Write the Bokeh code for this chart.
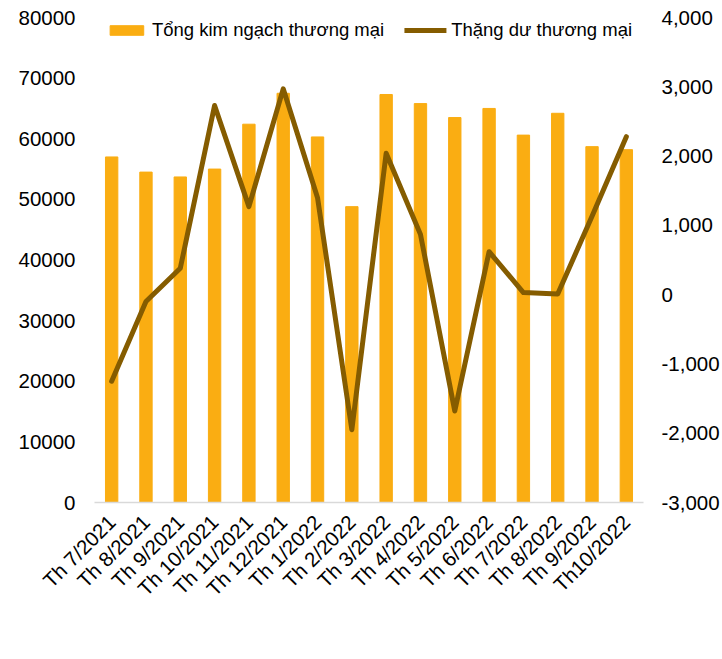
import math
from bokeh.plotting import figure
from bokeh.models import Range1d, LinearAxis, Legend, LegendItem, NumeralTickFormatter, FixedTicker
from bokeh.embed import file_html
from bokeh.resources import INLINE

months = ["Th 7/2021", "Th 8/2021", "Th 9/2021", "Th 10/2021", "Th 11/2021", "Th 12/2021",
          "Th 1/2022", "Th 2/2022", "Th 3/2022", "Th 4/2022", "Th 5/2022", "Th 6/2022",
          "Th 7/2022", "Th 8/2022", "Th 9/2022", "Th10/2022"]
total_trade = [57000, 54500, 53700, 55000, 62400, 67500, 60300, 48800,
               67300, 65800, 63500, 65000, 60600, 64200, 58700, 58200]
trade_surplus = [-1250, -100, 380, 2730, 1270, 2970, 1400, -1950,
                 2040, 870, -1680, 620, 30, 10, 1130, 2280]
left_ticks = [0, 10000, 20000, 30000, 40000, 50000, 60000, 70000, 80000]
right_ticks = [-3000, -2000, -1000, 0, 1000, 2000, 3000, 4000]

BAR = "#FAAD12"
LINE = "#855C00"
FONT = "Liberation Sans"

p = figure(x_range=months, y_range=Range1d(0, 80000),
           frame_width=549, frame_height=485,
           output_backend="svg", toolbar_location=None,
           min_border_left=94, min_border_right=60, min_border_top=17, min_border_bottom=0)
p.extra_y_ranges = {"r": Range1d(-3000, 4000)}
p.outline_line_color = None
p.grid.grid_line_color = None
p.x_range.range_padding = 0

bars = p.vbar(x=months, top=total_trade, width=0.36, color=BAR)
line = p.line(x=months, y=trade_surplus, y_range_name="r", line_color=LINE,
              line_width=5, line_join="round", line_cap="round")

ax = p.yaxis[0]
ax.ticker = FixedTicker(ticks=left_ticks)
ax.formatter = NumeralTickFormatter(format="0")

rax = LinearAxis(y_range_name="r", ticker=FixedTicker(ticks=right_ticks),
                 formatter=NumeralTickFormatter(format="0,0"))
p.add_layout(rax, "right")

for a in [ax, rax]:
    a.axis_line_color = None
    a.major_tick_line_color = None
    a.minor_tick_line_color = None
    a.major_tick_out = 0
    a.major_tick_in = 0
    a.major_label_text_font = FONT
    a.major_label_text_font_size = "20.5px"
    a.major_label_text_color = "#000000"
ax.major_label_standoff = 19
rax.major_label_standoff = 18

xa = p.xaxis[0]
xa.axis_line_color = "#D9D9D9"
xa.axis_line_width = 1.5
xa.major_tick_line_color = None
xa.minor_tick_line_color = None
xa.major_tick_out = 0
xa.major_tick_in = 0
xa.major_label_orientation = math.pi / 4
xa.major_label_standoff = 16
xa.major_label_text_font = FONT
xa.major_label_text_font_size = "20.5px"
xa.major_label_text_color = "#000000"

legend = Legend(items=[LegendItem(label="Tổng kim ngạch thương mại", renderers=[bars]),
                       LegendItem(label="Thặng dư thương mại", renderers=[line])],
                orientation="horizontal", location="top_center",
                glyph_width=42, glyph_height=12, label_standoff=5, spacing=20,
                label_text_font=FONT, label_text_font_size="18.5px", label_text_color="#000000",
                border_line_color=None, background_fill_alpha=0, padding=1, margin=2)
p.add_layout(legend, "center")

open("out.html", "w").write(file_html(p, INLINE))
